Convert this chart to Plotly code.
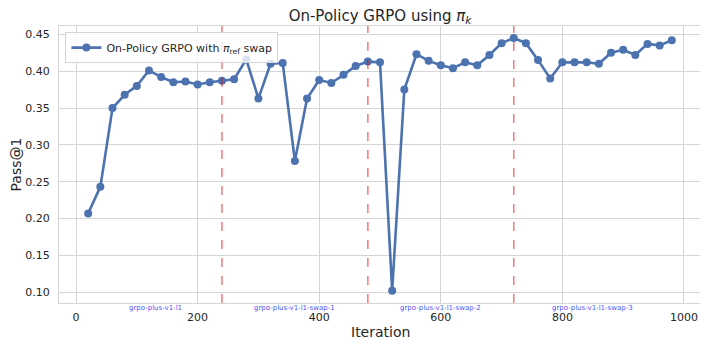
import plotly.graph_objects as go

ITERATIONS = list(range(20, 1000, 20))
PASS_AT_1 = [
    0.207, 0.243, 0.350, 0.368, 0.380, 0.401, 0.392, 0.385, 0.386, 0.382,
    0.385, 0.387, 0.389, 0.416, 0.363, 0.410, 0.411, 0.278, 0.363, 0.388,
    0.384, 0.395, 0.407, 0.413, 0.412, 0.102, 0.375, 0.423, 0.414, 0.408,
    0.404, 0.412, 0.408, 0.422, 0.438, 0.445, 0.438, 0.415, 0.390, 0.412,
    0.412, 0.412, 0.410, 0.425, 0.429, 0.422, 0.437, 0.435, 0.442,
]
SWAP_ITERATIONS = [240, 480, 720]
RUN_NAMES = ['grpo-plus-v1-l1', 'grpo-plus-v1-l1-swap-1', 'grpo-plus-v1-l1-swap-2', 'grpo-plus-v1-l1-swap-3']

FONT = 'DejaVu Sans'
GRID = '#d5d5d5'
TEXT = '#262626'

# page body keeps its 8px default margin, so the figure is 8px smaller each way
W, H = 700, 340

fig = go.Figure()
fig.add_trace(go.Scatter(
    x=ITERATIONS, y=PASS_AT_1, mode='lines+markers',
    name='On-Policy GRPO with <i>π</i><sub>ref</sub> swap',
    line=dict(color='#4C72B0', width=2.6),
    marker=dict(color='#4C72B0', size=8),
))

for s in SWAP_ITERATIONS:
    fig.add_vline(x=s, line=dict(color='rgba(255,0,0,0.55)', width=1.5, dash='dash'))

# run labels under each segment, between swap points
bounds = [ITERATIONS[0]] + SWAP_ITERATIONS + [ITERATIONS[-1]]
for i, name in enumerate(RUN_NAMES):
    fig.add_annotation(
        x=(bounds[i] + bounds[i + 1]) / 2, y=0, xref='x', yref='paper',
        text=name, showarrow=False, yanchor='top', yshift=1,
        font=dict(family=FONT, size=7, color='rgba(0,0,255,0.75)'),
    )

# axis titles as annotations so they sit where matplotlib put them
fig.add_annotation(x=0.5, y=0, xref='paper', yref='paper', yanchor='top', yshift=-19,
                   text='Iteration', showarrow=False, font=dict(size=14, color=TEXT))
fig.add_annotation(x=0, y=0.5, xref='paper', yref='paper', xanchor='right', xshift=-34,
                   text='Pass@1', textangle=-90, showarrow=False, font=dict(size=14, color=TEXT))

fig.update_layout(
    width=W, height=H,
    margin=dict(l=51, r=7, t=18, b=45, autoexpand=False),
    paper_bgcolor='white', plot_bgcolor='white',
    font=dict(family=FONT, size=11, color=TEXT),
    title=dict(text='On-Policy GRPO using <i>π<sub>k</sub></i>', x=0.5, xanchor='center', xref='paper',
               y=1 - 7.5 / H, yanchor='middle', font=dict(size=15, color=TEXT)),
    showlegend=True,
    legend=dict(x=0.01, y=0.978, xanchor='left', yanchor='top', bgcolor='rgba(255,255,255,0.8)',
                bordercolor='#d5d5d5', borderwidth=1, font=dict(size=11)),
)
fig.update_xaxes(
    range=[-28, 1028], tickvals=[0, 200, 400, 600, 800, 1000],
    showgrid=True, gridcolor=GRID, gridwidth=1, zeroline=False, automargin=False,
    showline=True, linecolor=GRID, mirror=True, ticks='', ticklabelstandoff=4,
    tickfont=dict(size=11),
)
fig.update_yaxes(
    range=[0.0854, 0.4613], tickvals=[0.10, 0.15, 0.20, 0.25, 0.30, 0.35, 0.40, 0.45], tickformat='.2f',
    showgrid=True, gridcolor=GRID, gridwidth=1, zeroline=False, automargin=False,
    showline=True, linecolor=GRID, mirror=True, ticks='', ticklabelstandoff=6,
    tickfont=dict(size=11),
)

fig.write_html('out.html')
